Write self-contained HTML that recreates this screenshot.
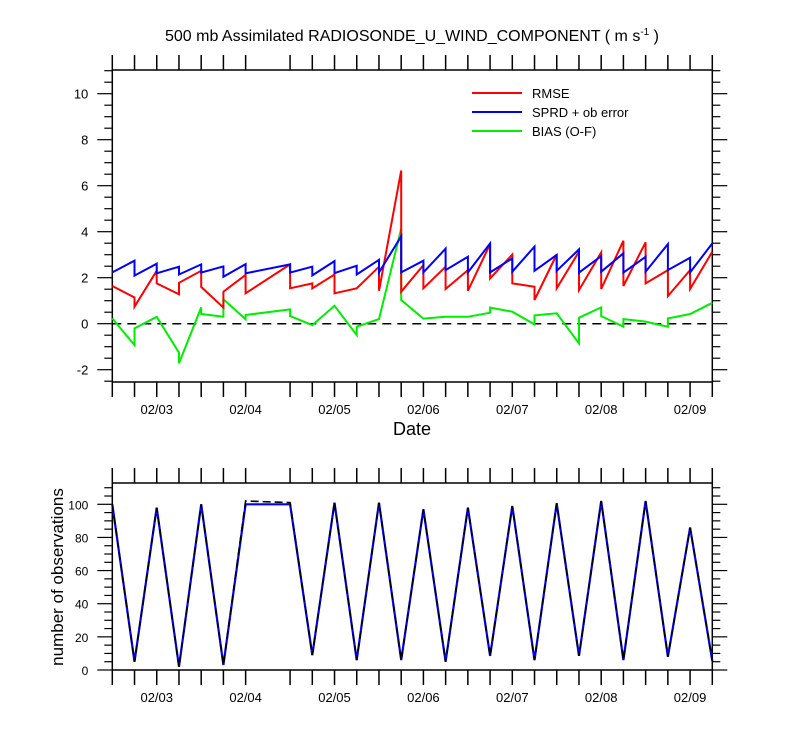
<!DOCTYPE html>
<html><head><meta charset="utf-8"><style>
body{margin:0;background:#fff}
svg{display:block;font-family:"Liberation Sans",Arial,sans-serif}
</style></head><body>
<svg id="c" width="800" height="750" xmlns="http://www.w3.org/2000/svg"></svg>
<script>
// times in 6-hour steps from 02/02 12Z (step 7 missing)
const segStart=[0,1,2,3,4,5,6,8,9,10,11,12,13,14,15,16,17,18,19,20,21,22,23,24,25,26];
const segEnd  =[1,2,3,4,5,6,8,9,10,11,12,13,14,15,16,17,18,19,20,21,22,23,24,25,26,27];
const rmseStart=[1.64,0.74,1.75,1.78,1.6,1.39,1.32,1.54,1.54,1.32,1.54,1.43,1.39,1.54,1.51,1.43,1.97,1.75,1.03,1.54,1.46,1.51,1.64,1.75,1.2,1.51];
const rmseEnd  =[1.14,2.3,1.28,2.3,0.7,2.12,2.58,1.75,2.14,1.54,2.48,6.66,2.55,2.48,2.33,3.46,3.01,1.61,3.01,3.13,3.1,3.61,3.54,2.33,2.33,3.13];
const sprdStart=[2.23,2.09,2.19,2.14,2.22,2.04,2.19,2.22,2.1,2.2,2.14,2.23,2.23,2.23,2.33,2.23,2.23,2.26,2.3,2.3,2.22,2.26,2.22,2.26,2.33,2.23];
const sprdEnd  =[2.74,2.61,2.48,2.58,2.49,2.59,2.58,2.48,2.72,2.52,2.78,3.8,2.74,3.26,2.91,3.49,2.84,3.35,2.99,3.23,2.94,3.06,2.91,3.46,2.87,3.49];
const biasStart=[0.23,-0.2,0.3,-1.72,0.42,1.06,0.38,0.33,-0.06,0.78,-0.13,0.2,1.03,0.22,0.3,0.3,0.7,0.52,0.36,0.45,0.26,0.33,0.2,0.09,0.23,0.42];
const biasEnd  =[-0.93,0.3,-1.26,0.71,0.3,0.19,0.62,-0.06,0.78,-0.49,0.2,4.14,0.22,0.3,0.3,0.48,0.52,-0.03,0.45,-0.86,0.71,-0.13,0.09,-0.13,0.42,0.91];
const obsTimes=[0,1,2,3,4,5,6,8,9,10,11,12,13,14,15,16,17,18,19,20,21,22,23,24,25,26,27];
const obsUsed =[100,5,98,2,100,3,100,100,9,101,6,101,6,97,5,98,8.5,99,6,100.6,8.5,102,6,102,8,86,5.5];
const obsTotal=[100,5,98,2,100,3,102,101,9,101,6,101,6,97,5,98,8.5,99,6,100.6,8.5,102,6,102,8,86,5.5];
const dateLabels=["02/03","02/04","02/05","02/06","02/07","02/08","02/09"];
const dateSteps=[2,6,10,14,18,22,26];
const topYTicks=[-2,0,2,4,6,8,10];
const botYTicks=[0,20,40,60,80,100];

const S="http://www.w3.org/2000/svg", svg=document.getElementById('c');
function el(t,a,p){const e=document.createElementNS(S,t);for(const k in a)e.setAttribute(k,a[k]);(p||svg).appendChild(e);return e;}
const X0=112.3,X1=712.3;
const xs=t=>X0+t*(X1-X0)/27;
const yT=v=>323.7-v*23;
const yB=v=>670-v*1.657;

const ti=el('text',{x:412,y:41,'text-anchor':'middle','font-size':16});


ti.innerHTML='500 mb Assimilated RADIOSONDE_U_WIND_COMPONENT ( m s<tspan dy="-6" font-size="10">-1</tspan><tspan dy="6"> )</tspan>';

function axes(top,bot,yfun,yticks,minorStep,ymin,ymax,name,fs){
  const g=el('g',{});
  
  
  el('rect',{x:X0,y:top,width:X1-X0,height:bot-top,fill:'none',stroke:'#000','stroke-width':1.5},g);
  for(let t=0;t<=27;t++){ if(t===7)continue;
    const x=xs(t);
    el('line',{x1:x,x2:x,y1:bot,y2:bot+15,stroke:'#000','stroke-width':1.5},g);
    el('line',{x1:x,x2:x,y1:top,y2:top-15,stroke:'#000','stroke-width':1.5},g);
  }
  for(let v=Math.ceil(ymin/minorStep)*minorStep;v<=ymax;v+=minorStep){
    const y=yfun(v); if(y<top-0.5||y>bot+0.5)continue;
    const major=yticks.some(m=>Math.abs(m-v)<1e-6);
    const L=major?15:8;
    el('line',{x1:X0-L,x2:X0,y1:y,y2:y,stroke:'#000','stroke-width':1.2},g);
    el('line',{x1:X1,x2:X1+L,y1:y,y2:y,stroke:'#000','stroke-width':1.2},g);
  }
  yticks.forEach(v=>{
    const t=el('text',{x:X0-24,y:yfun(v)+5,'text-anchor':'end','font-size':fs},g);
    
    
    t.textContent=v;
  });
  dateLabels.forEach((d,i)=>{
    const t=el('text',{x:xs(dateSteps[i]),y:bot+32,'text-anchor':'middle','font-size':13},g);
    
    
    t.textContent=d;
  });
}
axes(70,382,yT,topYTicks,0.5,-2.5,11,'top',13);
axes(483,670,yB,botYTicks,5,0,113,'bottom',12);

const z=el('line',{x1:X0,x2:X1,y1:yT(0),y2:yT(0),stroke:'#000','stroke-width':1.5,'stroke-dasharray':'9,6'});



function sawPath(a,b){
  let d='';
  for(let i=0;i<segStart.length;i++){
    d+=(i?'L':'M')+xs(segStart[i]).toFixed(1)+','+yT(a[i]).toFixed(1)+'L'+xs(segEnd[i]).toFixed(1)+','+yT(b[i]).toFixed(1);
  }
  return d;
}
const pB=el('path',{d:sawPath(biasStart,biasEnd),fill:'none',stroke:'#00ee00','stroke-width':2});


const pR=el('path',{d:sawPath(rmseStart,rmseEnd),fill:'none',stroke:'#ff0000','stroke-width':2});


const pS=el('path',{d:sawPath(sprdStart,sprdEnd),fill:'none',stroke:'#0000ff','stroke-width':2});



const leg=[['RMSE','#ff0000',93],['SPRD + ob error','#0000ff',112],['BIAS (O-F)','#00ee00',131]];
leg.forEach(l=>{
  const g=el('g',{});
  
  
  el('line',{x1:472,x2:522,y1:l[2],y2:l[2],stroke:l[1],'stroke-width':2},g);
  const t=el('text',{x:532,y:l[2]+5,'font-size':13},g);t.textContent=l[0];
});

const dt=el('text',{x:412,y:435,'text-anchor':'middle','font-size':18});


dt.textContent='Date';

let d1='',d2='';
obsTimes.forEach((t,i)=>{d1+=(i?'L':'M')+xs(t).toFixed(1)+','+yB(obsUsed[i]).toFixed(1);d2+=(i?'L':'M')+xs(t).toFixed(1)+','+yB(obsTotal[i]).toFixed(1);});
const ou=el('path',{d:d1,fill:'none',stroke:'#0000ff','stroke-width':2.2});


const ot=el('path',{d:d2,fill:'none',stroke:'#000','stroke-width':1.6,'stroke-dasharray':'8,4'});



const yt=el('text',{x:0,y:0,'text-anchor':'middle','font-size':17,transform:'translate(63,577) rotate(-90)'});


yt.textContent='number of observations';
</script>
</body></html>
